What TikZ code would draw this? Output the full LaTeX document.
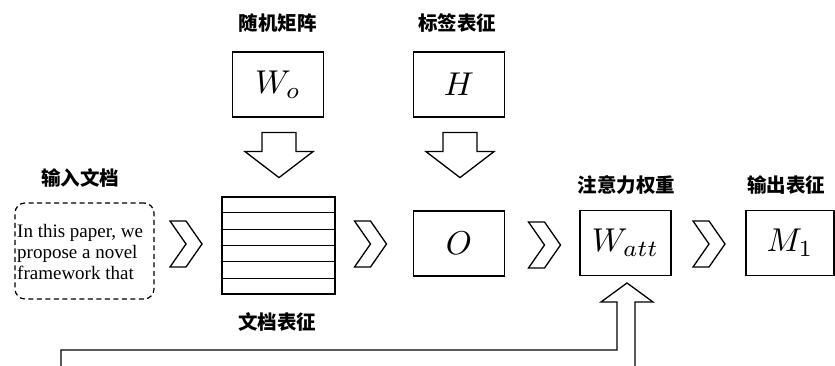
\documentclass[tikz,border=0pt]{standalone}
\usepackage{fontspec}
\newfontfamily\cjkfont{Noto Sans CJK SC}
\newfontfamily\docfont{Liberation Serif}
\usetikzlibrary{calc}
\newcommand{\mxl}[1]{\scalebox{3.3}{$#1$}}
\begin{document}
\begin{tikzpicture}[x=1pt,y=-1pt,
  box/.style={draw, line width=1.2pt, minimum width=91pt, minimum height=65pt, inner sep=0pt},
  lbl/.style={font=\cjkfont\bfseries\fontsize{19.5}{22}\selectfont, inner sep=0pt},
  blk/.style={draw, line width=1.3pt, line join=miter, fill=white},
  chev/.pic={\draw[blk] (-16,-23)--(0,-23)--(16,0)--(0,23)--(-16,23)--(0,0)--cycle;},
  downarr/.pic={\draw[blk] (-17,0)--(17,0)--(17,19)--(34,19)--(0,45)--(-34,19)--(-17,19)--cycle;},
]
\useasboundingbox (0,0) rectangle (835,366);

% boxes
\node[box] (Wo) at (278,84.5) {\mxl{W_o}};
\node[box] (H) at (459,84.5) {\mxl{H}};
\node[box] (O) at (459,243.5) {\mxl{O}};
\node[box] (Watt) at (625.5,243) {\mxl{W_{att}}};
\node[box, minimum width=88pt] (M1) at (790,243) {\mxl{M_1}};

% document representation stack
\node[draw, line width=1.2pt, minimum width=113pt, minimum height=97pt, inner sep=0pt] (stack) at (278.5,245.5) {};
\foreach \i in {1,...,5}
  \draw[line width=1.2pt] ($(stack.north west)!\i/6!(stack.south west)$) -- ($(stack.north east)!\i/6!(stack.south east)$);

% input document
\node[draw, dashed, dash pattern=on 5pt off 3.5pt, line width=1.2pt, rounded corners=10pt, minimum width=139pt, minimum height=96pt, inner sep=0pt] (doc) at (84.5,251) {};
\node[anchor=west, align=left, font=\docfont\fontsize{19}{21}\selectfont, inner sep=0pt] (doctext) at (17,252) {In this paper, we\\propose a novel\\framework that};

% labels
\node[lbl] (lWo) at (277.5,23) {随机矩阵};
\node[lbl] (lH) at (457,23) {标签表征};
\node[lbl] (ldoc) at (80,178) {输入文档};
\node[lbl] (lstack) at (277,322) {文档表征};
\node[lbl] (lWatt) at (626.5,185) {注意力权重};
\node[lbl] (lM1) at (786,185) {输出表征};

% chevrons
\pic at (186,244) {chev};
\pic at (370.5,244) {chev};
\pic at (544.5,245) {chev};
\pic at (709,244) {chev};

% down block arrows
\pic at ($(Wo.south)+(1,15)$) {downarr};
\pic at ($(H.south)+(1,15)$) {downarr};

% up block arrow with feedback line
\draw[blk, fill=none] (61,366) -- (61,350) -- (617,350) -- (617,302) -- (601,302) -- (627,283) -- (653,302) -- (635,302) -- (635,366);
\end{tikzpicture}
\end{document}
